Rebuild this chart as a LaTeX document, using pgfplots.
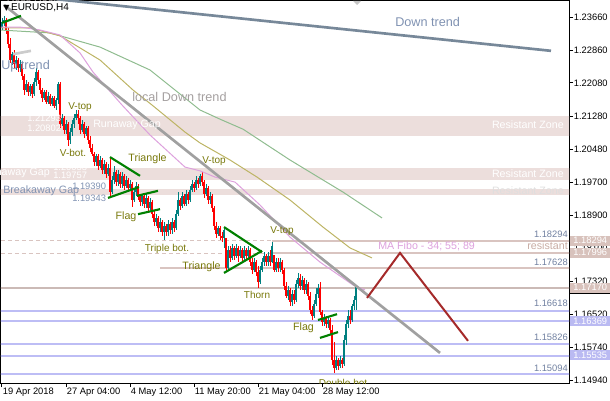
\documentclass[border=0pt]{standalone}
\usepackage{fontspec}
\setmainfont{Liberation Sans}
\newfontfamily\dejavu{DejaVu Sans}
\usepackage{pgfplots}
\usepackage{pgfplotstable}
\pgfplotsset{compat=1.18}
\definecolor{zone}{RGB}{236,222,220}
\definecolor{pinkline}{RGB}{217,196,192}
\definecolor{blueline}{RGB}{189,189,245}
\definecolor{pinktag}{RGB}{216,194,188}
\definecolor{bluetag}{RGB}{186,186,242}
\definecolor{slate}{RGB}{119,136,153}
\definecolor{slatetxt}{RGB}{128,146,178}
\definecolor{graytl}{RGB}{160,160,160}
\definecolor{graytxt}{RGB}{165,160,160}
\definecolor{maplum}{RGB}{221,160,221}
\definecolor{maolive}{RGB}{189,180,100}
\definecolor{magreen}{RGB}{143,188,143}
\definecolor{maroon}{RGB}{165,42,42}
\definecolor{patgreen}{RGB}{0,128,0}
\definecolor{patt}{RGB}{120,120,10}
\definecolor{lvl}{RGB}{112,128,160}
\definecolor{restxt}{RGB}{200,172,164}
\definecolor{bull}{RGB}{0,128,128}
\definecolor{bear}{RGB}{255,0,0}

\pgfplotstableread{
i o h l c
0 1.2340 1.2364 1.2335 1.2354
1 1.2354 1.2369 1.2345 1.2359
2 1.2359 1.2364 1.2325 1.2335
3 1.2335 1.2340 1.2292 1.2301
4 1.2301 1.2316 1.2256 1.2263
5 1.2263 1.2282 1.2251 1.2277
6 1.2277 1.2287 1.2244 1.2253
7 1.2253 1.2273 1.2239 1.2263
8 1.2263 1.2268 1.2234 1.2244
9 1.2244 1.2263 1.2234 1.2253
10 1.2253 1.2258 1.2215 1.2225
11 1.2225 1.2229 1.2179 1.2191
12 1.2191 1.2215 1.2186 1.2205
13 1.2205 1.2210 1.2177 1.2186
14 1.2186 1.2205 1.2177 1.2201
15 1.2201 1.2205 1.2172 1.2181
16 1.2181 1.2220 1.2177 1.2210
17 1.2210 1.2244 1.2201 1.2234
18 1.2234 1.2239 1.2205 1.2215
19 1.2215 1.2220 1.2181 1.2191
20 1.2191 1.2196 1.2162 1.2172
21 1.2172 1.2191 1.2167 1.2186
22 1.2186 1.2191 1.2157 1.2162
23 1.2162 1.2186 1.2157 1.2177
24 1.2177 1.2181 1.2153 1.2157
25 1.2157 1.2177 1.2153 1.2172
26 1.2172 1.2177 1.2148 1.2153
27 1.2153 1.2172 1.2143 1.2167
28 1.2167 1.2210 1.2157 1.2205
29 1.2205 1.2210 1.2100 1.2109
30 1.2109 1.2133 1.2105 1.2124
31 1.2124 1.2129 1.2085 1.2095
32 1.2095 1.2119 1.2085 1.2109
33 1.2109 1.2114 1.2057 1.2071
34 1.2071 1.2100 1.2061 1.2090
35 1.2090 1.2119 1.2081 1.2109
36 1.2109 1.2133 1.2100 1.2124
37 1.2124 1.2143 1.2119 1.2133
38 1.2133 1.2143 1.2109 1.2124
39 1.2124 1.2129 1.2085 1.2095
40 1.2095 1.2119 1.2090 1.2109
41 1.2109 1.2114 1.2076 1.2085
42 1.2085 1.2105 1.2081 1.2100
43 1.2100 1.2105 1.2061 1.2071
44 1.2071 1.2081 1.2042 1.2052
45 1.2052 1.2061 1.2033 1.2037
46 1.2037 1.2042 1.2009 1.2018
47 1.2018 1.2037 1.2009 1.2033
48 1.2033 1.2037 1.1999 1.2009
49 1.2009 1.2033 1.2004 1.2023
50 1.2023 1.2028 1.1989 1.1999
51 1.1999 1.2023 1.1989 1.2013
52 1.2013 1.2018 1.1980 1.1989
53 1.1989 1.2013 1.1985 1.2004
54 1.2004 1.2028 1.1934 1.1946
55 1.1946 1.1985 1.1941 1.1975
56 1.1975 1.2009 1.1965 1.1994
57 1.1994 1.1999 1.1961 1.1970
58 1.1970 1.1999 1.1961 1.1989
59 1.1989 1.1994 1.1956 1.1965
60 1.1965 1.1994 1.1956 1.1985
61 1.1985 1.1989 1.1951 1.1961
62 1.1961 1.1985 1.1956 1.1975
63 1.1975 1.1980 1.1946 1.1956
64 1.1956 1.1975 1.1951 1.1965
65 1.1965 1.1970 1.1910 1.1927
66 1.1927 1.1956 1.1922 1.1946
67 1.1946 1.1970 1.1937 1.1961
68 1.1961 1.1965 1.1927 1.1937
69 1.1937 1.1941 1.1913 1.1922
70 1.1922 1.1941 1.1913 1.1937
71 1.1937 1.1941 1.1908 1.1917
72 1.1917 1.1941 1.1908 1.1932
73 1.1932 1.1937 1.1898 1.1908
74 1.1908 1.1932 1.1903 1.1922
75 1.1922 1.1927 1.1884 1.1893
76 1.1893 1.1903 1.1865 1.1874
77 1.1874 1.1893 1.1865 1.1884
78 1.1884 1.1889 1.1850 1.1860
79 1.1860 1.1884 1.1850 1.1874
80 1.1874 1.1879 1.1841 1.1850
81 1.1850 1.1874 1.1831 1.1865
82 1.1865 1.1869 1.1841 1.1850
83 1.1850 1.1879 1.1841 1.1869
84 1.1869 1.1874 1.1845 1.1855
85 1.1855 1.1884 1.1845 1.1874
86 1.1874 1.1879 1.1850 1.1860
87 1.1860 1.1903 1.1855 1.1893
88 1.1893 1.1946 1.1889 1.1927
89 1.1927 1.1932 1.1903 1.1913
90 1.1913 1.1946 1.1908 1.1937
91 1.1937 1.1941 1.1913 1.1917
92 1.1917 1.1951 1.1913 1.1941
93 1.1941 1.1946 1.1917 1.1927
94 1.1927 1.1961 1.1922 1.1951
95 1.1951 1.1975 1.1946 1.1965
96 1.1965 1.1970 1.1946 1.1956
97 1.1956 1.1985 1.1951 1.1975
98 1.1975 1.1980 1.1956 1.1965
99 1.1965 1.1989 1.1961 1.1985
100 1.1985 1.1994 1.1961 1.1970
101 1.1970 1.1975 1.1932 1.1941
102 1.1941 1.1965 1.1937 1.1956
103 1.1956 1.1961 1.1917 1.1927
104 1.1927 1.1946 1.1917 1.1937
105 1.1937 1.1941 1.1898 1.1908
106 1.1908 1.1913 1.1855 1.1865
107 1.1865 1.1874 1.1836 1.1845
108 1.1845 1.1865 1.1841 1.1860
109 1.1860 1.1865 1.1831 1.1841
110 1.1841 1.1850 1.1826 1.1836
111 1.1836 1.1862 1.1812 1.1855
112 1.1836 1.1836 1.1754 1.1764
113 1.1764 1.1817 1.1759 1.1807
114 1.1807 1.1817 1.1778 1.1788
115 1.1788 1.1821 1.1783 1.1812
116 1.1812 1.1817 1.1783 1.1793
117 1.1793 1.1821 1.1788 1.1812
118 1.1812 1.1817 1.1778 1.1793
119 1.1793 1.1817 1.1788 1.1807
120 1.1807 1.1812 1.1778 1.1788
121 1.1788 1.1817 1.1783 1.1807
122 1.1807 1.1812 1.1783 1.1793
123 1.1793 1.1817 1.1788 1.1807
124 1.1807 1.1812 1.1769 1.1778
125 1.1778 1.1788 1.1749 1.1759
126 1.1759 1.1788 1.1754 1.1778
127 1.1778 1.1783 1.1745 1.1754
128 1.1754 1.1769 1.1716 1.1730
129 1.1730 1.1769 1.1725 1.1759
130 1.1759 1.1788 1.1754 1.1778
131 1.1778 1.1802 1.1769 1.1793
132 1.1793 1.1797 1.1769 1.1778
133 1.1778 1.1802 1.1769 1.1793
134 1.1793 1.1807 1.1769 1.1778
135 1.1778 1.1826 1.1776 1.1817
136 1.1795 1.1795 1.1754 1.1759
137 1.1759 1.1788 1.1754 1.1778
138 1.1778 1.1788 1.1754 1.1764
139 1.1764 1.1788 1.1754 1.1778
140 1.1778 1.1783 1.1749 1.1759
141 1.1759 1.1764 1.1711 1.1721
142 1.1721 1.1730 1.1692 1.1697
143 1.1697 1.1721 1.1687 1.1711
144 1.1711 1.1716 1.1673 1.1682
145 1.1682 1.1711 1.1673 1.1701
146 1.1701 1.1711 1.1677 1.1687
147 1.1687 1.1735 1.1682 1.1725
148 1.1725 1.1752 1.1716 1.1740
149 1.1740 1.1749 1.1711 1.1721
150 1.1721 1.1745 1.1711 1.1735
151 1.1735 1.1740 1.1701 1.1711
152 1.1711 1.1735 1.1701 1.1725
153 1.1725 1.1730 1.1687 1.1697
154 1.1697 1.1706 1.1653 1.1663
155 1.1663 1.1673 1.1639 1.1649
156 1.1649 1.1687 1.1644 1.1677
157 1.1677 1.1716 1.1673 1.1701
158 1.1701 1.1725 1.1692 1.1716
159 1.1716 1.1730 1.1651 1.1658
160 1.1658 1.1663 1.1625 1.1634
161 1.1634 1.1653 1.1625 1.1644
162 1.1644 1.1649 1.1620 1.1629
163 1.1629 1.1649 1.1620 1.1639
164 1.1639 1.1644 1.1605 1.1615
165 1.1615 1.1627 1.1531 1.1543
166 1.1543 1.1586 1.1512 1.1524
167 1.1524 1.1553 1.1519 1.1543
168 1.1543 1.1548 1.1519 1.1529
169 1.1529 1.1553 1.1524 1.1543
170 1.1543 1.1548 1.1524 1.1533
171 1.1533 1.1603 1.1529 1.1591
172 1.1591 1.1639 1.1579 1.1629
173 1.1629 1.1663 1.1620 1.1649
174 1.1649 1.1663 1.1629 1.1639
175 1.1639 1.1677 1.1634 1.1673
176 1.1673 1.1697 1.1663 1.1687
177 1.1687 1.1723 1.1663 1.1718
}\ohlc

\begin{document}
\begin{tikzpicture}
\begin{axis}[
  scale only axis, width=426pt, height=286.5pt,
  xmin=-0.5, xmax=283.5, ymin=1.14878, ymax=1.24046,
  clip mode=individual,
  axis line style={black, line width=0.75pt},
  tick align=outside, major tick length=3pt,
  tick style={black, line width=0.75pt},
  xtick pos=bottom, ytick pos=right,
  xtick={0,32,64,96,128,160},
  xticklabels={19 Apr 2018,27 Apr 04:00,4 May 12:00,11 May 20:00,21 May 04:00,28 May 12:00},
  ytick={1.14940,1.15740,1.16520,1.17320,1.18100,1.18900,1.19700,1.20480,1.21280,1.22080,1.22860,1.23660},
  yticklabels={1.14940,1.15740,1.16520,1.17320,1.18100,1.18900,1.19700,1.20480,1.21280,1.22080,1.22860,1.23660},
  ticklabel style={font=\fontsize{7}{8}\selectfont, inner sep=0pt},
  xticklabel style={anchor=north west, xshift=0.5pt, yshift=-0.5pt},
  yticklabel style={anchor=west, xshift=0.5pt},
  scaled y ticks=false,
]
% resistance zones
\addplot[fill=zone, draw=none, forget plot] coordinates {(-2,1.21293) (290,1.21293) (290,1.20802) (-2,1.20802)};
\addplot[fill=zone, draw=none, forget plot] coordinates {(-2,1.20033) (290,1.20033) (290,1.19757) (-2,1.19757)};
\addplot[fill=zone, draw=none, forget plot] coordinates {(-2,1.19540) (290,1.19540) (290,1.19390) (-2,1.19390)};
% horizontal levels
\addplot[pinkline, line width=0.75pt, dash pattern=on 3pt off 2.25pt, forget plot] coordinates {(-0.5,1.18294) (135,1.18294)};
\addplot[pinkline, line width=1.5pt, forget plot] coordinates {(135,1.18294) (290,1.18294)};
\addplot[pinkline, line width=0.75pt, dash pattern=on 3pt off 2.25pt, forget plot] coordinates {(-0.5,1.17996) (135,1.17996)};
\addplot[pinkline, line width=1.5pt, forget plot] coordinates {(135,1.17996) (290,1.17996)};
\addplot[pinkline, line width=1.5pt, forget plot] coordinates {(79,1.17628) (290,1.17628)};
\addplot[pinkline!85!gray, line width=1.5pt, forget plot] coordinates {(-2,1.17170) (290,1.17170)};
\addplot[blueline, line width=1.5pt, forget plot] coordinates {(-2,1.16618) (290,1.16618)};
\addplot[blueline, line width=1.5pt, forget plot] coordinates {(-2,1.16369) (290,1.16369)};
\addplot[blueline, line width=1.5pt, forget plot] coordinates {(-2,1.15826) (290,1.15826)};
\addplot[blueline, line width=1.5pt, forget plot] coordinates {(-2,1.15535) (290,1.15535)};
\addplot[blueline, line width=1.5pt, forget plot] coordinates {(-2,1.15094) (290,1.15094)};
% candles: wicks
\addplot[draw=none, mark=none, forget plot,
  restrict expr to domain={\thisrow{c}-\thisrow{o}}{0:1},
  error bars/.cd, y dir=both, y explicit, error mark=none,
  error bar style={draw=bull, line width=0.6pt}]
  table[x=i, y expr=(\thisrow{h}+\thisrow{l})/2, y error expr=(\thisrow{h}-\thisrow{l})/2] {\ohlc};
\addplot[draw=none, mark=none, forget plot,
  restrict expr to domain={\thisrow{c}-\thisrow{o}}{-1:-0.00001},
  error bars/.cd, y dir=both, y explicit, error mark=none,
  error bar style={draw=bear, line width=0.6pt}]
  table[x=i, y expr=(\thisrow{h}+\thisrow{l})/2, y error expr=(\thisrow{h}-\thisrow{l})/2] {\ohlc};
% candles: bodies
\addplot[draw=none, mark=none, forget plot,
  restrict expr to domain={\thisrow{c}-\thisrow{o}}{0:1},
  error bars/.cd, y dir=both, y explicit, error mark=none,
  error bar style={draw=bull, line width=1.2pt}]
  table[x=i, y expr=(\thisrow{o}+\thisrow{c})/2, y error expr=abs(\thisrow{c}-\thisrow{o})/2] {\ohlc};
\addplot[draw=none, mark=none, forget plot,
  restrict expr to domain={\thisrow{c}-\thisrow{o}}{-1:-0.00001},
  error bars/.cd, y dir=both, y explicit, error mark=none,
  error bar style={draw=bear, line width=1.2pt}]
  table[x=i, y expr=(\thisrow{o}+\thisrow{c})/2, y error expr=abs(\thisrow{c}-\thisrow{o})/2] {\ohlc};
% moving averages 34 55 89
\addplot[magreen, line width=0.75pt, forget plot] coordinates {(-1,1.2335) (24,1.2328) (49,1.2294) (74,1.2239) (99,1.2143) (109,1.2121) (120.5,1.2097) (144,1.2023) (170.5,1.1946) (190,1.1884)};
\addplot[maolive, line width=0.75pt, forget plot] coordinates {(-1,1.2340) (14,1.2340) (29,1.2321) (49,1.2263) (65.5,1.2191) (75,1.2155) (91.5,1.2090) (99,1.2064) (114,1.2023) (127.5,1.1982) (144,1.1927) (160.5,1.1862) (174,1.1812) (185,1.1788)};
\addplot[maplum, line width=0.75pt, forget plot] coordinates {(-1,1.2342) (9,1.2342) (19,1.2335) (29,1.2323) (39,1.2280) (45.5,1.2234) (60,1.2155) (74,1.2083) (91.5,1.2006) (99,1.1997) (106.5,1.1982) (116.5,1.1970) (129,1.1915) (144,1.1838) (159,1.1778) (175.5,1.1723) (181.5,1.1711)};
% trend lines
\addplot[slate, line width=2pt, forget plot] coordinates {(-1,1.2423) (274.5,1.2285)};
\addplot[graytl, line width=2pt, forget plot] coordinates {(1,1.2395) (219,1.1560)};
\addplot[gray!40, line width=2pt, forget plot] coordinates {(5.5,1.2277) (14.5,1.2285)};
\addplot[patgreen, line width=1.6pt, forget plot] coordinates {(0,1.2352) (9.5,1.2369)};
\addplot[maroon, line width=1.5pt, forget plot] coordinates {(182.5,1.1692) (199,1.1800) (233,1.1589)};
% chart patterns
\addplot[patgreen, line width=1.6pt, forget plot] coordinates {(54,1.2030) (69,1.1985)};
\addplot[patgreen, line width=1.6pt, forget plot] coordinates {(53,1.1932) (68.5,1.1958)};
\addplot[patgreen, line width=1.6pt, forget plot] coordinates {(67.5,1.1937) (78,1.1949)};
\addplot[patgreen, line width=1.6pt, forget plot] coordinates {(68,1.1893) (79,1.1905)};
\addplot[patgreen, line width=1.6pt, forget plot] coordinates {(111,1.1862) (130,1.1802)};
\addplot[patgreen, line width=1.6pt, forget plot] coordinates {(111,1.1752) (130,1.1805)};
\addplot[patgreen, line width=1.6pt, forget plot] coordinates {(158,1.1639) (167.5,1.1653)};
\addplot[patgreen, line width=1.6pt, forget plot] coordinates {(159,1.1596) (168,1.1610)};
\end{axis}
% annotations in pixel units of the reference
\begin{scope}[x=0.75pt,y=-0.75pt,shift={(-0.75pt,287.25pt)}]
\begin{scope}
\clip (1,1) rectangle (569,383);
\node[anchor=center, inner sep=0, text=graytxt, font=\fontsize{8}{9}\selectfont] at (33,-2) {Ross Hook};
\node[anchor=east, inner sep=0, text=white, font=\fontsize{8}{9}\selectfont] at (50,173) {Runaway Gap};
\node[anchor=center, inner sep=0, text=patt, font=\fontsize{7.5}{9}\selectfont] at (343,383) {Double bot};
\end{scope}
\node[anchor=west, inner sep=0, font=\fontsize{7.5}{9}\selectfont] at (3,8) {{\dejavu\fontsize{6}{7}\selectfont ▼}\,EURUSD,H4};
\fill[gray!45] (353,1) -- (361,1) -- (357,5) -- cycle;
\node[anchor=west, inner sep=0, text=slatetxt, font=\fontsize{9.5}{11}\selectfont] at (1,66) {Up trend};
\node[anchor=west, inner sep=0, text=slatetxt, font=\fontsize{9.5}{11}\selectfont] at (395,22) {Down trend};
\node[anchor=west, inner sep=0, text=graytxt, font=\fontsize{9.5}{11}\selectfont] at (132,97) {local Down trend};
\node[anchor=west, inner sep=0, text=white, font=\fontsize{8}{9}\selectfont] at (93,125) {Runaway Gap};
\node[anchor=west, inner sep=0, text=slatetxt, font=\fontsize{8}{9}\selectfont] at (3,191) {Breakaway Gap};
\node[anchor=east, inner sep=0, text=white, font=\fontsize{8}{9}\selectfont] at (564,125) {Resistant Zone};
\node[anchor=east, inner sep=0, text=white, font=\fontsize{8}{9}\selectfont] at (564,174) {Resistant Zone};
\node[anchor=east, inner sep=0, text=gray!25, font=\fontsize{8}{9}\selectfont] at (564,191) {Resistant Zone};
\node[anchor=west, inner sep=0, text=white, font=\fontsize{7}{8}\selectfont] at (27,118) {1.21293};
\node[anchor=west, inner sep=0, text=white, font=\fontsize{7}{8}\selectfont] at (27,128) {1.20802};
\node[anchor=west, inner sep=0, text=white, font=\fontsize{7}{8}\selectfont] at (53,167) {1.20033};
\node[anchor=west, inner sep=0, text=white, font=\fontsize{7}{8}\selectfont] at (53,175) {1.19757};
\node[anchor=west, inner sep=0, text=slatetxt, font=\fontsize{7}{8}\selectfont] at (72,186) {1.19390};
\node[anchor=west, inner sep=0, text=slatetxt, font=\fontsize{7}{8}\selectfont] at (72,198) {1.19343};
% pattern names
\node[inner sep=0, text=patt, font=\fontsize{7.5}{9}\selectfont] at (80,107) {V-top};
\node[inner sep=0, text=patt, font=\fontsize{7.5}{9}\selectfont] at (73,153) {V-bot.};
\node[inner sep=0, text=patt, font=\fontsize{8}{9}\selectfont] at (147.5,159) {Triangle};
\node[inner sep=0, text=patt, font=\fontsize{8}{9}\selectfont] at (126,217) {Flag};
\node[inner sep=0, text=patt, font=\fontsize{7.5}{9}\selectfont] at (167,249) {Triple bot.};
\node[inner sep=0, text=patt, font=\fontsize{7.5}{9}\selectfont] at (214,161) {V-top};
\node[inner sep=0, text=patt, font=\fontsize{8}{9}\selectfont] at (201.5,267) {Triangle};
\node[inner sep=0, text=patt, font=\fontsize{7.5}{9}\selectfont] at (282,231) {V-top};
\node[inner sep=0, text=patt, font=\fontsize{7.5}{9}\selectfont] at (257,295) {Thorn};
\node[inner sep=0, text=patt, font=\fontsize{8}{9}\selectfont] at (303.5,328) {Flag};
% level captions
\node[anchor=west, inner sep=0, text=maplum, font=\fontsize{8}{9}\selectfont] at (378,246) {MA Fibo - 34; 55; 89};
\node[anchor=east, inner sep=0, text=restxt, font=\fontsize{8}{9}\selectfont] at (568,246) {resistant};
\node[anchor=east, inner sep=0, text=lvl, font=\fontsize{7}{8}\selectfont] at (568,234) {1.18294};
\node[anchor=east, inner sep=0, text=lvl, font=\fontsize{7}{8}\selectfont] at (568,262) {1.17628};
\node[anchor=east, inner sep=0, text=lvl, font=\fontsize{7}{8}\selectfont] at (568,303) {1.16618};
\node[anchor=east, inner sep=0, text=lvl, font=\fontsize{7}{8}\selectfont] at (568,337) {1.15826};
\node[anchor=east, inner sep=0, text=lvl, font=\fontsize{7}{8}\selectfont] at (568,368) {1.15094};
% price tags on the right scale
\fill[black] (570,283) rectangle (610,294);
\node[fill=pinktag, text=white, anchor=west, inner sep=0, minimum width=30pt, minimum height=7.5pt, font=\fontsize{7}{8}\selectfont] at (570,240.7) {1.18294};
\node[fill=pinktag, text=white, anchor=west, inner sep=0, minimum width=30pt, minimum height=7.5pt, font=\fontsize{7}{8}\selectfont] at (570,252.7) {1.17996};
\node[fill=pinktag, text=white, anchor=west, inner sep=0, minimum width=30pt, minimum height=7.5pt, font=\fontsize{7}{8}\selectfont] at (570,287.5) {1.17170};
\node[fill=bluetag, text=white, anchor=west, inner sep=0, minimum width=30pt, minimum height=7.5pt, font=\fontsize{7}{8}\selectfont] at (570,320.9) {1.16369};
\node[fill=bluetag, text=white, anchor=west, inner sep=0, minimum width=30pt, minimum height=7.5pt, font=\fontsize{7}{8}\selectfont] at (570,355.0) {1.15535};
\end{scope}
\pgfresetboundingbox
\path[use as bounding box] (-0.75pt,-12.75pt) rectangle (456.75pt,287.25pt);
\end{tikzpicture}
\end{document}
